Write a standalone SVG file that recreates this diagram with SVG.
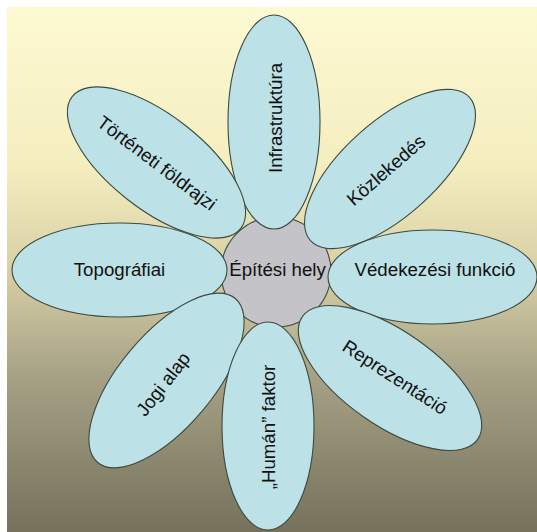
<svg xmlns="http://www.w3.org/2000/svg" width="537" height="532" viewBox="0 0 537 532">
  <defs>
    <linearGradient id="bg" x1="0" y1="0" x2="0" y2="1">
      <stop offset="0" stop-color="#fdf9d2"/>
      <stop offset="0.3" stop-color="#f4eebf"/>
      <stop offset="0.5" stop-color="#d8d0a6"/>
      <stop offset="0.7" stop-color="#a7a286"/>
      <stop offset="1" stop-color="#75715b"/>
    </linearGradient>
  </defs>
  <style>
    .petal { fill: #bce1e6; stroke: #3c4a40; stroke-width: 1.1; }
    .core { fill: #c4c3c8; stroke: #3c4a40; stroke-width: 1.1; }
    text { font-family: "Liberation Sans", Arial, sans-serif; font-size: 18.7px; fill: #111; text-anchor: middle; }
  </style>
  <rect x="0" y="0" width="537" height="532" fill="#ffffff"/>
  <rect x="7" y="7" width="530" height="525" fill="url(#bg)"/>

  <g id="center">
    <circle class="core" cx="276" cy="272" r="55"/>
  </g>
  <g id="infrastruktura">
    <ellipse class="petal" cx="274" cy="122" rx="46" ry="107"/>
    <text transform="translate(275.5,118) rotate(-90)" dy="0.35em">Infrastruktúra</text>
  </g>
  <g id="tortineti">
    <ellipse class="petal" transform="translate(156.5,162.5) rotate(38)" rx="107" ry="47"/>
    <text transform="translate(157,163) rotate(37)" dy="0.35em">Történeti földrajzi</text>
  </g>
  <g id="kozlekedes">
    <ellipse class="petal" transform="translate(390,169) rotate(-42)" rx="107" ry="47"/>
    <text transform="translate(386,170) rotate(-41)" dy="0.35em">Közlekedés</text>
  </g>
  <g id="topografiai">
    <ellipse class="petal" cx="119.5" cy="270" rx="107.5" ry="47"/>
    <text x="119.5" y="276">Topográfiai</text>
  </g>
  <g id="vedekezesi">
    <ellipse class="petal" cx="432.5" cy="277" rx="104.5" ry="47"/>
    <text x="435" y="276">Védekezési funkció</text>
  </g>
  <g id="reprezentacio">
    <ellipse class="petal" transform="translate(390,378) rotate(35)" rx="107" ry="47"/>
    <text transform="translate(395,377) rotate(33)" dy="0.35em">Reprezentáció</text>
  </g>
  <g id="jogi">
    <ellipse class="petal" transform="translate(166.5,380.5) rotate(-50)" rx="107" ry="47"/>
    <text transform="translate(163,384) rotate(-52)" dy="0.35em">Jogi alap</text>
  </g>
  <g id="human">
    <ellipse class="petal" cx="268" cy="426" rx="46" ry="104"/>
    <text transform="translate(268.5,427) rotate(-90)" dy="0.35em">„Humán” faktor</text>
  </g>
  <g id="center-label">
    <text x="277.5" y="276">Építési hely</text>
  </g>
  <g id="connectors"/>
</svg>
